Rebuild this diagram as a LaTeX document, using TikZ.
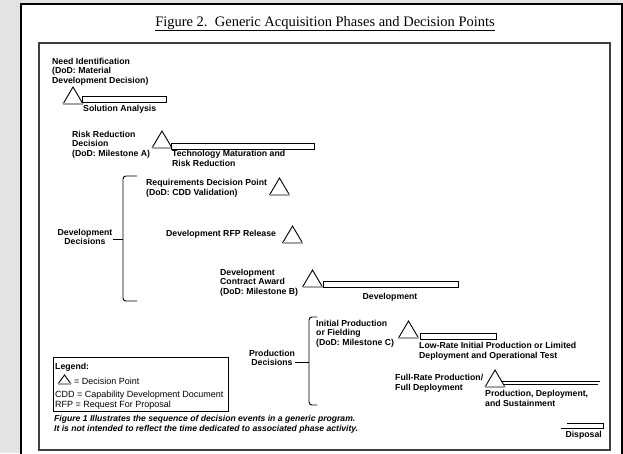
\documentclass[tikz,border=0pt]{standalone}
\usepackage{fontspec}
\setmainfont{Liberation Sans}
\newfontfamily\titlefont{Liberation Serif}
\usetikzlibrary{positioning}

\tikzset{
  lbl/.style={inner sep=0pt, align=left, font=\fontsize{8.7}{9.4}\selectfont\bfseries},
  lgd/.style={inner sep=0pt, align=left, font=\fontsize{9}{9.4}\selectfont},
  note/.style={inner sep=0pt, align=left, font=\fontsize{8.6}{10}\selectfont\bfseries\itshape},
  phasebar/.style={draw, line width=0.9pt, inner sep=0pt, minimum height=6pt},
  dptri/.style={draw, line width=0.9pt, line join=miter},
  dpbase/.style={draw=gray!70, line width=1.2pt},
  bracket/.style={draw, line width=0.9pt, rounded corners=3pt},
}

% decision point: name, x, y of the base centre
\newcommand{\dpoint}[3]{%
  \coordinate (#1) at (#2,#3);
  \draw[dptri] (#2-10,#3) -- (#2,#3-17) -- (#2+10,#3);
  \draw[dpbase] (#2-10,#3) -- (#2+10,#3);
}

\begin{document}
\begin{tikzpicture}[x=1pt,y=-1pt]
  \useasboundingbox (0,0) rectangle (623,453);
  \fill[gray!22] (0,0) rectangle (623,453);
  \draw[fill=white, line width=1.3pt] (21,4) rectangle (622,460);

  \node[anchor=base, inner sep=0pt, font=\titlefont\fontsize{14.5}{16}\selectfont] (title) at (325,26)
    {\underline{Figure 2.\ \ Generic Acquisition Phases and Decision Points}};
  \draw[line width=1.6pt, draw=black!75] (39,43) rectangle (610,450);

  % need identification
  \node[lbl, anchor=base west] (needid) at (52,83) {Need Identification\\(DoD: Material\\Development Decision)};
  \dpoint{dp1}{73}{104}
  \node[phasebar, minimum width=84pt, anchor=north west] (sabar) at (82,96) {};
  \node[lbl, anchor=base west] (sa) at (83,111) {Solution Analysis};

  % risk reduction
  \node[lbl, anchor=base west] (rrd) at (72,156) {Risk Reduction\\Decision\\(DoD: Milestone A)};
  \dpoint{dp2}{162}{148}
  \node[phasebar, minimum width=143pt, anchor=north west] (tmbar) at (171,143) {};
  \node[lbl, anchor=base west] (tm) at (172,166) {Technology Maturation and\\Risk Reduction};

  % development decisions
  \coordinate (b1top) at (137,176);
  \coordinate (b1mid) at (123,239);
  \coordinate (b1bot) at (137,301);
  \draw[bracket] (b1top) -| (b1mid) |- (b1bot);
  \node[lbl, align=center] (devdec) at (85,237) {Development\\Decisions};
  \draw[line width=0.9pt] (devdec.east |- b1mid) -- (b1mid);

  \node[lbl, anchor=base west] (rdp) at (146,195) {Requirements Decision Point\\(DoD: CDD Validation)};
  \dpoint{dp3}{279.5}{195}
  \node[lbl, anchor=base west] (rfp) at (166,236) {Development RFP Release};
  \dpoint{dp4}{292.5}{243}
  \node[lbl, anchor=base west] (dca) at (220,294) {Development\\Contract Award\\(DoD: Milestone B)};
  \dpoint{dp5}{312.5}{287}
  \node[phasebar, minimum width=135pt, anchor=north west] (devbar) at (323,281) {};
  \node[lbl] (dev) at (390,297) {Development};

  % production decisions
  \coordinate (b2top) at (317,317);
  \coordinate (b2mid) at (309,362);
  \coordinate (b2bot) at (317,405);
  \draw[bracket] (b2top) -| (b2mid) |- (b2bot);
  \node[lbl, align=center] (proddec) at (272,358) {Production\\Decisions};
  \draw[line width=0.9pt] (proddec.east |- b2mid) -- (b2mid);

  \node[lbl, anchor=base west] (ipf) at (316,345) {Initial Production\\or Fielding\\(DoD: Milestone C)};
  \dpoint{dp6}{408.5}{338}
  \node[phasebar, minimum width=76pt, anchor=north west] (lribar) at (420,333) {};
  \node[lbl, anchor=base west] (lri) at (419,358) {Low-Rate Initial Production or Limited\\Deployment and Operational Test};

  \node[lbl, anchor=base west] (frp) at (395,390) {Full-Rate Production/\\Full Deployment};
  \dpoint{dp7}{495}{387}
  \draw[line width=0.9pt] (502,381) -- (600,381);
  \draw[line width=0.9pt] (504,384.5) -- (598,384.5);
  \node[lbl, anchor=base west] (pds) at (485,406) {Production, Deployment,\\and Sustainment};

  % disposal
  \draw[line width=0.9pt] (567,423) -- (603,423) -- (603,428.5) -- (561,428.5);
  \node[lbl, anchor=base east] (disp) at (602,437) {Disposal};

  % legend
  \node[draw, line width=1pt, minimum width=175pt, minimum height=54pt, anchor=north west] (legend) at (53,357) {};
  \node[lbl, anchor=base west] (lgdtitle) at (55,369) {Legend:};
  \draw[dptri] (58,384) -- (64.5,375) -- (71,384);
  \draw[dpbase] (58,384) -- (71,384);
  \node[lgd, anchor=base west] (lgd1) at (74,384) {= Decision Point};
  \node[lgd, anchor=base west] (lgd2) at (55,397) {CDD = Capability Development Document};
  \node[lgd, anchor=base west] (lgd3) at (55,407) {RFP = Request For Proposal};

  \node[note, anchor=base west] (fn) at (54,431) {Figure 1 Illustrates the sequence of decision events in a generic program.\\It is not intended to reflect the time dedicated to associated phase activity.};
\end{tikzpicture}
\end{document}
